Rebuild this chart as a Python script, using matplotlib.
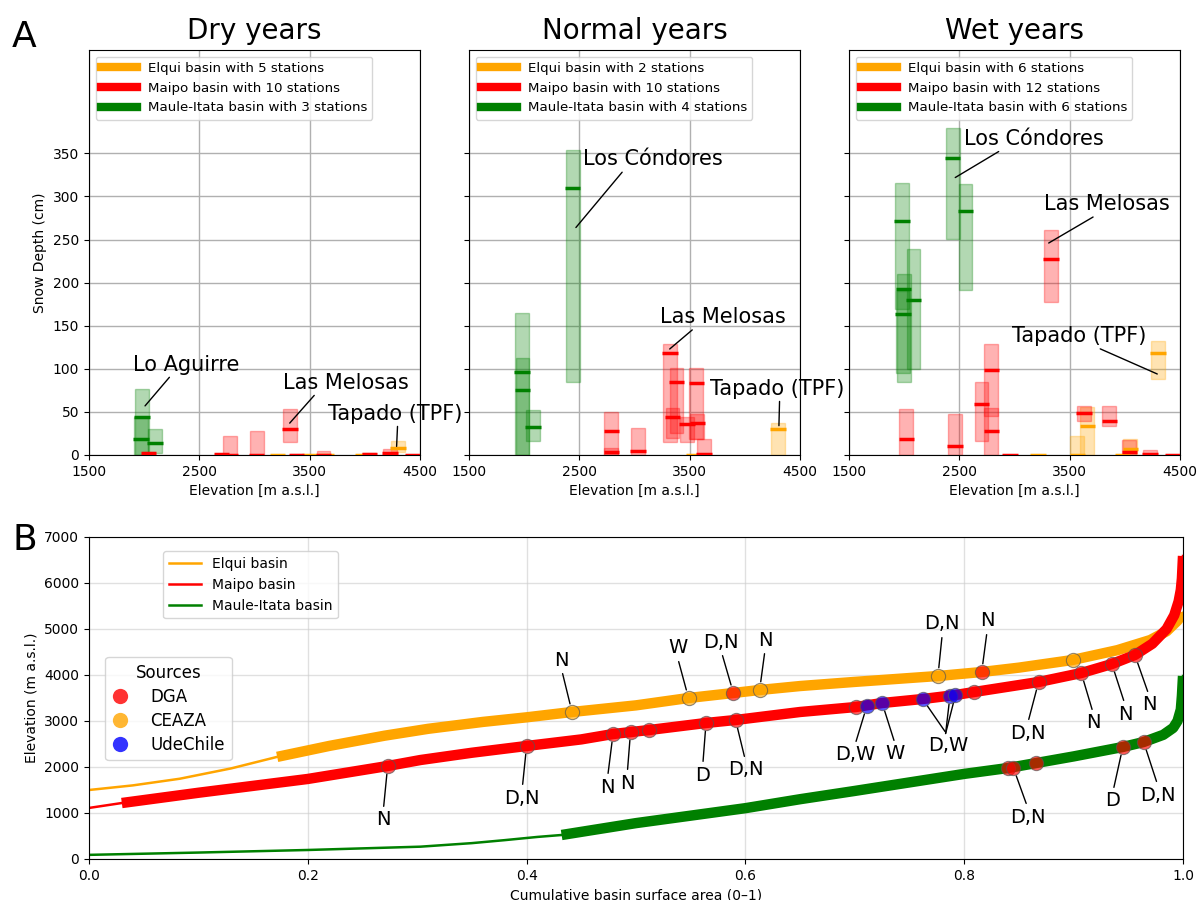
import matplotlib
matplotlib.use("Agg")
import matplotlib.pyplot as plt
from matplotlib.lines import Line2D

# ---- panel A data: (elevation m, low cm, high cm, median cm) per station ----
dry_elqui = [(3210, 0, 0, 0), (3500, 0, 0, 0), (3650, 0, 0, 0), (3980, 0, 0, 0), (4300, 3, 16, 8)]
dry_maipo = [(2040, 0, 4, 2), (2700, 0, 1, 1), (2780, 0, 22, 0), (3020, 0, 28, 0), (3320, 15, 53, 30),
             (3380, 0, 1, 0), (3625, 0, 5, 0), (4040, 0, 2, 1), (4230, 0, 6.5, 2), (4430, 0, 0, 0)]
dry_maule = [(1980, 0, 77, 44), (1970, 0, 44, 18), (2100, 2, 30, 14)]

norm_elqui = [(3540, 0, 0, 0), (4300, 0, 37.5, 30)]
norm_maipo = [(2790, 0, 50, 28), (2790, 0, 8, 3), (3030, 0, 31, 5), (3320, 15, 129, 118),
              (3345, 20, 55, 44), (3380, 26, 101, 85), (3475, 15, 44, 36), (3560, 19, 101, 83),
              (3570, 19, 48, 37), (3630, 0, 18, 1)]
norm_maule = [(1980, 0, 165, 96), (1985, 0, 113, 75), (2080, 16, 52, 32), (2440, 85, 354, 310)]

wet_elqui = [(3215, 0, 0, 0), (3570, 0, 22, 0), (3660, 0, 56, 34), (3980, 0, 0, 0),
             (4050, 0, 19, 7), (4300, 88, 132, 118)]
wet_maipo = [(2020, 0, 53, 18), (2460, 0, 48, 11), (2700, 16, 85, 59), (2790, 45, 129, 99),
             (2790, 0, 54, 28), (2960, 0, 0, 0), (3330, 178, 261, 227), (3630, 39, 57, 49),
             (3860, 34, 57, 40), (4040, 0, 17, 3), (4230, 0, 6, 1.5), (4430, 0, 0, 0)]
wet_maule = [(1980, 170, 316, 271), (1995, 85, 210, 193), (1990, 95, 190, 164),
             (2085, 100, 239, 180), (2440, 251, 380, 345), (2555, 191, 315, 283)]

# annotations: (text, xy, xytext(left, centre), relpos)
dry_notes = [("Lo Aguirre", (2008, 57), (1903, 105), (0.36, 0)),
             ("Las Melosas", (3319, 37), (3256, 84), (0.27, 0)),
             ("Tapado (TPF)", (4288, 10), (3664, 48), (0.52, 0))]
norm_notes = [("Los Cóndores", (2469, 264), (2529, 343), (0.30, 0)),
              ("Las Melosas", (3319, 123), (3234, 160), (0.28, 0)),
              ("Tapado (TPF)", (4309, 34), (3682, 77), (0.52, 0))]
wet_notes = [("Los Cóndores", (2463, 322), (2544, 367), (0.28, 0)),
             ("Las Melosas", (3310, 246), (3265, 291), (0.43, 0)),
             ("Tapado (TPF)", (4294, 94), (2977, 138), (0.61, 0))]

# ---- panel B data: hypsometric curves ----
elqui_x = [0.0, 0.04, 0.083, 0.13, 0.172, 0.22, 0.27, 0.31, 0.36, 0.40, 0.4415, 0.50, 0.548, 0.589,
           0.613, 0.65, 0.70, 0.776, 0.816, 0.85, 0.899, 0.94, 0.97, 0.985, 0.995, 1.0]
elqui_y = [1500, 1600, 1745, 1970, 2220, 2460, 2680, 2830, 2980, 3080, 3196, 3340, 3500, 3609,
           3674, 3760, 3850, 3978, 4065, 4160, 4326, 4540, 4760, 4950, 5180, 5350]
maipo_x = [0.0, 0.03, 0.1, 0.2, 0.273, 0.303, 0.35, 0.4, 0.45, 0.479, 0.512, 0.564, 0.591, 0.65,
           0.701, 0.725, 0.762, 0.792, 0.809, 0.868, 0.907, 0.935, 0.956, 0.972, 0.985, 0.992,
           0.996, 0.998, 0.999, 1.0]
maipo_y = [1110, 1217, 1440, 1740, 2022, 2152, 2310, 2457, 2600, 2717, 2804, 2957, 3022, 3196,
           3304, 3391, 3478, 3565, 3630, 3848, 4043, 4239, 4435, 4680, 5000, 5300, 5600, 5850,
           6100, 6587]
maule_x = [0.0, 0.1, 0.2, 0.303, 0.35, 0.38, 0.41, 0.432, 0.5, 0.6, 0.65, 0.7, 0.8, 0.84, 0.866,
           0.9, 0.945, 0.964, 0.982, 0.991, 0.995, 0.998, 0.999, 1.0]
maule_y = [90, 140, 196, 268, 345, 410, 480, 522, 780, 1105, 1300, 1480, 1850, 1978, 2087,
           2230, 2435, 2543, 2700, 2850, 3000, 3250, 3550, 3978]
thick_start = {"Elqui": 0.172, "Maipo": 0.03, "Maule": 0.432}

dga_x = [0.273, 0.4, 0.479, 0.495, 0.512, 0.564, 0.591, 0.589, 0.701, 0.809, 0.816, 0.868,
         0.907, 0.935, 0.956, 0.840, 0.845, 0.866, 0.945, 0.964]
dga_y = [2022, 2457, 2717, 2761, 2804, 2957, 3022, 3609, 3304, 3630, 4065, 3848,
         4043, 4239, 4435, 1978, 1978, 2087, 2435, 2543]
ceaza_x = [0.4415, 0.548, 0.613, 0.776, 0.899]
ceaza_y = [3196, 3500, 3674, 3978, 4326]
ude_x = [0.711, 0.725, 0.762, 0.787, 0.792]
ude_y = [3326, 3391, 3478, 3543, 3565]

# labels: text, point, text centre
lab_text = ["N", "W", "D,N", "N", "D,N", "N",
            "N", "D,N", "N", "N", "D", "D,N", "D,W", "W", "D,W", "D,W", "D,W",
            "D,N", "N", "N", "N", "D,N", "D", "D,N"]
lab_px = [0.4415, 0.548, 0.589, 0.613, 0.776, 0.816,
          0.273, 0.4, 0.479, 0.495, 0.564, 0.591, 0.711, 0.725, 0.762, 0.787, 0.792,
          0.868, 0.907, 0.935, 0.956, 0.845, 0.945, 0.964]
lab_py = [3196, 3500, 3609, 3674, 3978, 4065,
          2022, 2457, 2717, 2761, 2957, 3022, 3326, 3391, 3478, 3543, 3565,
          3848, 4043, 4239, 4435, 1978, 2435, 2543]
lab_tx = [0.432, 0.538, 0.578, 0.618, 0.78, 0.821,
          0.269, 0.396, 0.474, 0.492, 0.561, 0.6, 0.70, 0.737, 0.785, 0.785, 0.785,
          0.858, 0.918, 0.947, 0.969, 0.858, 0.936, 0.977]
lab_ty = [4326, 4587, 4717, 4760, 5109, 5174,
          848, 1326, 1565, 1652, 1826, 1935, 2261, 2283, 2478, 2478, 2478,
          2739, 2957, 3152, 3348, 913, 1261, 1391]

colors = {"Elqui": "orange", "Maipo": "red", "Maule": "green"}

fig = plt.figure(figsize=(11.98, 9), dpi=100)


def draw_panel(ax, elqui, maipo, maule, title, notes, first):
    for name, data in (("Elqui", elqui), ("Maipo", maipo), ("Maule", maule)):
        c = colors[name]
        for e, lo, hi, med in data:
            ax.bar(e, hi - lo, bottom=lo, width=125, color=c, alpha=0.3,
                   edgecolor=c, linewidth=1, zorder=2)
            ax.hlines(med, e - 70, e + 70, color=c, lw=2.5, zorder=3)
    handles = [Line2D([], [], color="orange", lw=6),
               Line2D([], [], color="red", lw=6),
               Line2D([], [], color="green", lw=6)]
    labels = ["Elqui basin with %d stations" % len(elqui),
              "Maipo basin with %d stations" % len(maipo),
              "Maule-Itata basin with %d stations" % len(maule)]
    ax.legend(handles, labels, loc="upper left", fontsize=9.6, handlelength=2.7)
    for txt, xy, xyt, rp in notes:
        ax.annotate(txt, xy=xy, xytext=xyt, ha="left", va="center", fontsize=15,
                    arrowprops=dict(arrowstyle="-", color="k", lw=1, relpos=rp,
                                    shrinkA=0, shrinkB=0), zorder=5)
    ax.set_xlim(1500, 4500)
    ax.set_ylim(0, 470)
    ax.set_xticks([1500, 2500, 3500, 4500])
    ax.set_yticks(range(0, 351, 50))
    ax.grid(True, color="#b0b0b0", lw=1)
    ax.set_axisbelow(True)
    ax.set_title(title, fontsize=20, pad=8)
    ax.set_xlabel("Elevation [m a.s.l.]", fontsize=10)
    if first:
        ax.set_ylabel("Snow Depth (cm)", fontsize=10)
    else:
        ax.set_yticklabels([])


lefts = [89, 469, 849]
panels = [(dry_elqui, dry_maipo, dry_maule, "Dry years", dry_notes),
          (norm_elqui, norm_maipo, norm_maule, "Normal years", norm_notes),
          (wet_elqui, wet_maipo, wet_maule, "Wet years", wet_notes)]
for i, (l, p) in enumerate(zip(lefts, panels)):
    ax = fig.add_axes([l / 1198, 445 / 900, 331 / 1198, 405 / 900])
    draw_panel(ax, p[0], p[1], p[2], p[3], p[4], i == 0)

fig.text(12 / 1198, 1 - 20 / 900, "A", fontsize=26, va="top", ha="left")
fig.text(12 / 1198, 1 - 523 / 900, "B", fontsize=26, va="top", ha="left")

# ---- panel B ----
axb = fig.add_axes([89 / 1198, 41 / 900, 1094 / 1198, 322 / 900])
curves = [("Elqui", elqui_x, elqui_y, "Elqui basin"),
          ("Maipo", maipo_x, maipo_y, "Maipo basin"),
          ("Maule", maule_x, maule_y, "Maule-Itata basin")]
line_handles = []
for name, xs, ys, lab in curves:
    c = colors[name]
    h, = axb.plot(xs, ys, color=c, lw=1.8, zorder=2, label=lab)
    line_handles.append(h)
    xt = [x for x in xs if x >= thick_start[name]]
    yt = [y for x, y in zip(xs, ys) if x >= thick_start[name]]
    axb.plot(xt, yt, color=c, lw=7.5, zorder=2, solid_capstyle="butt",
             solid_joinstyle="round")

done = set()
for t, px, py, tx, ty in zip(lab_text, lab_px, lab_py, lab_tx, lab_ty):
    above = ty > py
    if (t, tx, ty) in done:
        axb.annotate("", xy=(px, py), xytext=(tx - 0.002, ty + 250),
                     arrowprops=dict(arrowstyle="-", color="k", lw=1, shrinkA=0, shrinkB=6))
        continue
    done.add((t, tx, ty))
    axb.annotate(t, xy=(px, py), xytext=(tx, ty), ha="center", va="center", fontsize=14,
                 arrowprops=dict(arrowstyle="-", color="k", lw=1,
                                 relpos=(0.5, 0) if above else (0.5, 1),
                                 shrinkA=1, shrinkB=6), zorder=4)

axb.scatter(dga_x, dga_y, s=105, color="red", alpha=0.65, edgecolor="#555555",
            linewidth=0.8, zorder=5, label="DGA")
axb.scatter(ceaza_x, ceaza_y, s=105, color="orange", alpha=0.65, edgecolor="#555555",
            linewidth=0.8, zorder=5, label="CEAZA")
axb.scatter(ude_x, ude_y, s=105, color="blue", alpha=0.65, edgecolor="#555555",
            linewidth=0.8, zorder=5, label="UdeChile")

axb.set_xlim(0, 1.0)
axb.set_ylim(0, 7000)
axb.grid(True, color="#cccccc", alpha=0.6, lw=1)
axb.set_axisbelow(True)
axb.set_xlabel("Cumulative basin surface area (0\u20131)", fontsize=10)
axb.set_ylabel("Elevation (m a.s.l.)", fontsize=10)

leg1 = axb.legend(handles=line_handles, loc="upper left", bbox_to_anchor=(0.068, 0.955),
                  borderaxespad=0, fontsize=10, handlelength=2.3)
axb.add_artist(leg1)
src_handles = [Line2D([], [], ls="", marker="o", ms=11, color=c, alpha=0.8, mec="none")
               for c in ("red", "orange", "blue")]
axb.legend(src_handles, ["DGA", "CEAZA", "UdeChile"], title="Sources", loc="upper left",
           bbox_to_anchor=(0.015, 0.627), borderaxespad=0, fontsize=12, title_fontsize=12,
           handlelength=1.0, handletextpad=1.3, labelspacing=0.36)

fig.savefig("out.png", dpi=100)
